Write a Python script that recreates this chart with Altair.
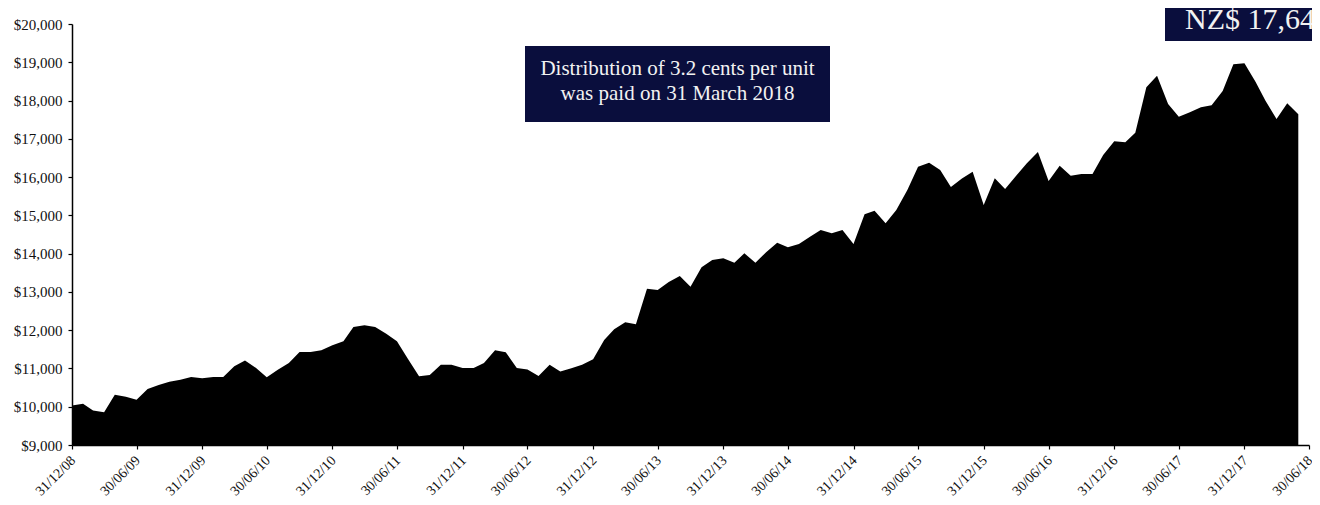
import calendar
import altair as alt
import pandas as pd

# Monthly unit values (NZ$), month-end, Dec 2008 .. May 2018
v2008 = [10030]
v2009 = [10076, 9901, 9857, 10312, 10260, 10181, 10461, 10566, 10654, 10706, 10776, 10741]
v2010 = [10776, 10776, 11056, 11205, 11012, 10767, 10969, 11144, 11432, 11432, 11476, 11607]
v2011 = [11712, 12080, 12132, 12080, 11905, 11712, 11250, 10794, 10829, 11100, 11100, 11012]
v2012 = [11012, 11144, 11476, 11423, 11012, 10970, 10800, 11095, 10920, 11003, 11100, 11238]
v2013 = [11744, 12023, 12206, 12154, 13084, 13050, 13259, 13416, 13137, 13643, 13834, 13878]
v2014 = [13764, 14009, 13764, 14035, 14286, 14166, 14252, 14443, 14618, 14531, 14618, 14252]
v2015 = [15028, 15123, 14793, 15141, 15663, 16272, 16377, 16186, 15740, 15960, 16142, 15271]
v2016 = [15969, 15689, 16038, 16360, 16656, 15898, 16298, 16038, 16081, 16081, 16578, 16936]
v2017 = [16910, 17161, 18347, 18650, 17910, 17579, 17693, 17824, 17876, 18250, 18948, 18974]
v2018 = [18493, 17997, 17518, 17928, 17641]

values = v2008 + v2009 + v2010 + v2011 + v2012 + v2013 + v2014 + v2015 + v2016 + v2017 + v2018

dates = []
yy, mm = 2008, 12
for _ in values:
    dd = calendar.monthrange(yy, mm)[1]
    dates.append(f"{yy:04d}-{mm:02d}-{dd:02d}")
    mm += 1
    if mm > 12:
        mm = 1
        yy += 1

tick_dates = [(2008, 12, 31)]
for y in range(2009, 2019):
    tick_dates.append((y, 6, 30))
    if y < 2018:
        tick_dates.append((y, 12, 31))

y_ticks = list(range(9000, 20001, 1000))

annotation_lines = ["Distribution of 3.2 cents per unit", "was paid on 31 March 2018"]
latest_label = "NZ$ 17,641"

NAVY = "#0a0e3d"
FONT = "Liberation Serif"

df = pd.DataFrame({"date": dates, "value": values})


def dt(t):
    return alt.DateTime(year=t[0], month=t[1], date=t[2], utc=True)


area = alt.Chart(df).mark_area(color="black", opacity=1, strokeWidth=0).encode(
    x=alt.X(
        "date:T",
        scale=alt.Scale(type="utc", domain=[dt(tick_dates[0]), dt(tick_dates[-1])]),
        axis=alt.Axis(
            values=[dt(t) for t in tick_dates],
            format="%d/%m/%y",
            labelAngle=315,
            title=None,
            grid=False,
            tickSize=4,
            labelPadding=4,
            labelOffset=-4,
            labelFontSize=14,
        ),
    ),
    y=alt.Y(
        "value:Q",
        scale=alt.Scale(domain=[9000, 20000], zero=False, nice=False),
        axis=alt.Axis(
            values=y_ticks,
            format="$,.0f",
            title=None,
            grid=False,
            tickSize=4,
            labelPadding=6,
            labelFontSize=15,
        ),
    ),
    y2=alt.datum(9000),
)

one = pd.DataFrame({"k": [0]})

box = alt.Chart(one).mark_rect(color=NAVY).encode(
    x=alt.value(453), x2=alt.value(758), y=alt.value(22), y2=alt.value(98)
)
txt1 = alt.Chart(one).mark_text(
    font=FONT, fontSize=21, color="#f2f2f2", align="center", baseline="alphabetic"
).encode(x=alt.value(605.5), y=alt.value(51), text=alt.value(annotation_lines[0]))
txt2 = alt.Chart(one).mark_text(
    font=FONT, fontSize=21, color="#f2f2f2", align="center", baseline="alphabetic"
).encode(x=alt.value(605.5), y=alt.value(76), text=alt.value(annotation_lines[1]))

nzbox = alt.Chart(one).mark_rect(color=NAVY).encode(
    x=alt.value(1093), x2=alt.value(1300), y=alt.value(-40), y2=alt.value(17)
)
nztxt = alt.Chart(one).mark_text(
    font=FONT, fontSize=30, color="#f2f2f2", align="left", baseline="alphabetic"
).encode(x=alt.value(1113), y=alt.value(5), text=alt.value(latest_label))

chart = (
    alt.layer(area, box, txt1, txt2, nzbox, nztxt)
    .properties(
        width=1237,
        height=421,
        autosize=alt.AutoSizeParams(type="none"),
        padding={"left": 64, "top": 16, "right": 3, "bottom": 51},
        background="white",
    )
    .configure_view(strokeWidth=0)
    .configure_axis(
        domainColor="black",
        domainWidth=1.5,
        tickColor="black",
        tickWidth=1.2,
        labelColor="#111111",
        labelFont=FONT,
    )
)

chart.save("out.html", embed_options={"renderer": "svg", "actions": False})
